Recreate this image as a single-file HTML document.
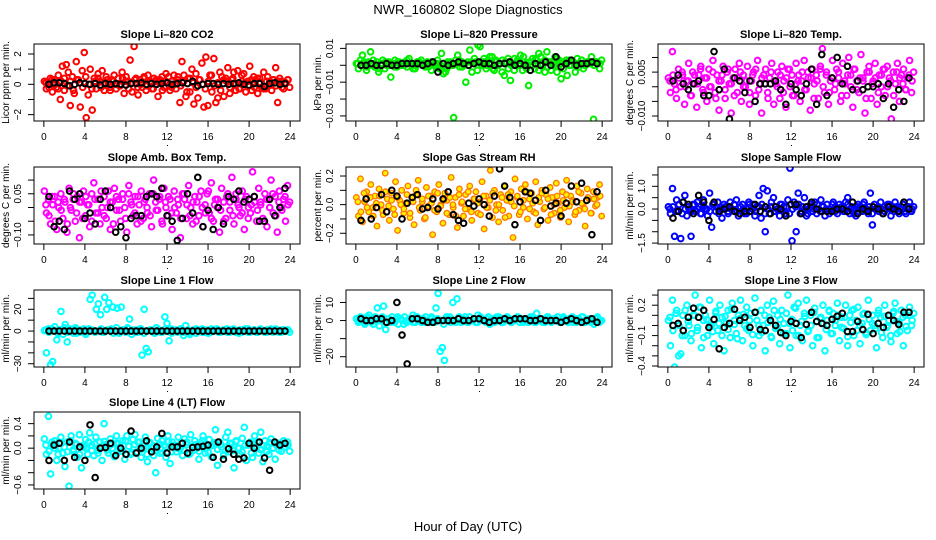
<!DOCTYPE html>
<html><head><meta charset="utf-8">
<style>
html,body{margin:0;padding:0;background:#fff;}
svg{display:block;font-family:"Liberation Sans",Arial,sans-serif;}
</style></head>
<body>
<svg id="chart" width="936" height="540" viewBox="0 0 936 540" xmlns="http://www.w3.org/2000/svg">
<rect width="936" height="540" fill="#fff"/>
<text x="468" y="14" text-anchor="middle" font-size="13">NWR_160802  Slope Diagnostics</text>
<text x="468" y="531" text-anchor="middle" font-size="13">Hour of Day (UTC)</text>
<g id="panels"></g>
</svg>
<script>
// ---- data ----
const xTicks = [0,4,8,12,16,20,24];
const co2Vals = [0.2,-0.3,0.1,0.4,-0.5,0.3,-0.2,0.6,-1.0,1.2,-0.4,1.3,0.8,-1.4,0.5,-0.6,1.5,0.3,-1.5,0.9,2.1,-2.2,-0.7,1.0,-1.7,0.4,-0.3,0.7,0.2,0.9,-0.4,0.5,0.1,-0.2,0.3,0.6,-0.3,0.4,-0.1,0.8,-0.6,0.5,0.2,1.6,-0.5,2.5,0.4,-0.7,0.3,-0.2,0.5,-0.4,0.6,0.1,-0.3,0.4,0.2,-0.8,0.3,0.5,-0.2,0.7,0.1,-0.4,0.2,0.6,-0.3,0.5,-1.2,1.5,0.6,-0.8,0.4,-0.5,1.0,-1.3,0.7,-0.9,0.3,1.4,-1.5,1.8,-1.4,0.6,-0.5,1.7,-1.2,-0.9,0.8,0.5,-0.8,0.4,1.1,-0.6,0.3,0.8,-0.4,0.9,-0.3,0.6,0.7,-0.5,0.2,1.2,-0.4,0.5,0.3,-0.6,0.4,-0.2,0.8,-0.3,0.5,0.2,-0.4,0.3,1.1,-1.2,0.4,0.2,-0.3,0.1,0.3,-0.2];
const co2Core = [0.1,-0.2,0.3,0.0,-0.3,0.2,0.4,-0.1,0.2,-0.4,0.3,0.1,-0.2,0.5,0.0,-0.3,0.2,0.4,-0.2,0.1,0.3,-0.4,0.2,0.0,-0.1,0.4,0.2,-0.3,0.1,0.3,-0.2,0.0,0.4,-0.1,0.2,-0.3,0.3,0.1,-0.4,0.2,0.5,-0.2,0.0,0.3,-0.1,0.2,-0.5,0.4,0.1,-0.2,0.3,0.0,-0.3,0.2,0.6,-0.1,0.1,-0.4,0.3,0.2,-0.2,0.4,0.0,-0.3,0.2,0.1,-0.1,0.3,-0.2,0.4,0.1,-0.3,0.2,0.0,0.3,-0.1,0.2,-0.2,0.1,0.3];
const co2Ref = [0,0.1,0.1,0.05,-0.1,0,0.1,0.05,0,0.05,-0.05,0.05,0,0.05,0,-0.05,0.05,0.05,0.1,0,0.05,0,0.05,0.1,0,0.05,0.1,0.05,0.2,-0.1,0,0.05,0.05,0,0.05,0,0.05,0.1,0,-0.05,0.05,0.05,-0.15,0.05,0.1,0,0.05];
const presVals = [0.001,-0.002,0.003,0.006,0.001,-0.003,0.002,0.008,0.000,-0.001,0.002,-0.004,0.001,0.003,-0.002,0.000,0.002,-0.007,0.001,0.003,-0.001,0.002,0.000,0.001,0.002,-0.001,0.004,0.001,0.000,-0.002,0.002,0.001,0.003,0.000,-0.001,0.002,0.001,-0.003,0.002,0.000,0.001,-0.002,0.007,-0.005,-0.004,0.002,0.001,0.000,-0.031,0.003,0.006,-0.001,0.002,0.000,-0.010,0.002,0.009,-0.004,0.001,0.002,0.012,0.011,0.000,0.004,-0.002,0.003,0.001,0.005,-0.003,0.002,0.000,0.001,0.003,-0.006,0.002,-0.002,-0.009,0.001,0.004,0.002,0.000,0.006,-0.003,0.002,0.001,-0.012,0.002,0.004,-0.002,0.003,0.007,0.005,0.000,-0.004,0.008,0.002,-0.003,0.001,0.005,-0.004,0.003,-0.008,0.002,0.001,-0.006,0.003,0.000,0.002,-0.004,0.004,0.001,0.003,-0.002,0.000,0.002,0.001,0.005,-0.032,0.002,0.001,-0.002,0.003];
const presCore = [0.001,0.000,0.002,-0.001,0.001,0.003,0.000,-0.002,0.001,0.002,0.000,0.001,-0.001,0.002,0.001,0.000,0.003,0.001,-0.002,0.000,0.002,0.001,0.000,-0.001,0.002,0.001,0.003,0.000,0.001,-0.002,0.002,0.000,0.001,0.003,-0.001,0.001,0.000,0.002,0.004,-0.003,0.001,0.002,0.000,0.005,-0.002,0.003,0.001,-0.004,0.002,0.004,0.000,-0.003,0.003,0.001,0.005,-0.002,0.002,0.000,0.004,-0.003,0.001,0.003,-0.001,0.002,0.000,0.004,0.001,-0.002,0.003,0.000,0.002,0.001,-0.001,0.003,0.000,0.002,0.001,0.000,0.002,0.001];
const presRef = [0.000,0.000,0.001,0.000,0.000,0.001,0.000,0.000,0.001,0.001,0.001,0.001,0.000,0.001,0.002,-0.004,0.001,0.000,0.001,0.002,0.001,0.000,0.001,0.002,0.001,0.001,0.000,0.001,0.001,0.002,0.000,0.001,0.000,-0.003,0.001,0.000,0.002,0.000,0.005,-0.001,0.001,0.003,0.000,0.001,0.001,0.002,0.001];
const tempVals = [0.003,-0.002,0.012,0.001,-0.004,0.006,0.000,0.004,-0.006,0.002,0.008,-0.003,0.005,0.001,-0.007,0.004,0.007,-0.001,0.003,-0.005,0.006,0.000,0.009,-0.002,0.004,-0.008,0.002,0.007,-0.004,0.005,0.001,-0.009,0.003,0.006,-0.002,0.008,-0.005,0.004,0.000,0.007,-0.006,0.002,0.005,-0.003,0.009,0.001,-0.009,0.004,0.006,-0.002,0.003,0.008,-0.006,0.001,0.005,-0.004,0.007,0.002,-0.007,0.006,0.000,0.004,-0.003,0.008,0.002,-0.005,0.005,0.009,-0.001,0.003,-0.008,0.006,0.001,0.004,-0.004,0.007,0.013,-0.002,0.005,-0.006,0.002,0.009,-0.001,0.006,0.003,-0.005,0.008,0.001,-0.003,0.010,0.004,-0.007,0.006,0.002,-0.002,0.011,0.003,-0.009,0.005,0.007,-0.004,0.002,0.008,-0.006,0.004,0.000,0.006,-0.003,0.007,0.003,-0.011,0.005,0.001,0.008,-0.005,0.004,0.006,-0.001,0.003,0.009,-0.002,0.005];
const tempCore = [0.002,0.004,-0.001,0.003,0.005,0.000,0.002,-0.003,0.004,0.001,0.006,-0.002,0.003,0.000,0.005,-0.004,0.002,0.004,-0.001,0.006,0.001,-0.003,0.003,0.005,0.000,0.002,-0.002,0.004,0.006,-0.001,0.003,0.001,-0.004,0.005,0.002,0.000,0.004,-0.002,0.003,0.006,-0.003,0.001,0.004,0.002,-0.001,0.005,0.003,-0.004,0.002,0.006,0.000,0.004,-0.002,0.003,0.001,0.005,-0.003,0.002,0.004,0.000,0.006,-0.001,0.003,0.002,-0.004,0.005,0.001,0.003,-0.002,0.004,0.006,0.000,0.002,-0.003,0.005,0.003,0.001,-0.001,0.004,0.002];
const tempRef = [0.002,0.004,0.001,-0.001,0.001,0.002,-0.003,-0.003,0.012,-0.001,0.006,-0.011,0.003,0.002,-0.002,0.002,-0.005,0.001,0.001,0.001,0.002,-0.001,-0.006,0.001,-0.001,-0.003,0.001,0.006,-0.006,0.011,-0.003,0.003,0.010,0.001,0.007,-0.001,0.002,-0.001,0.000,0.000,0.001,-0.004,0.001,-0.007,-0.001,-0.005,0.003];
const ambVals = [0.06,-0.02,0.03,-0.06,0.01,0.04,-0.08,0.00,0.05,-0.04,0.02,-0.09,0.07,-0.01,0.03,-0.05,0.04,-0.11,0.02,0.06,-0.03,0.01,-0.07,0.05,0.09,-0.02,0.03,-0.06,0.00,0.04,-0.04,0.06,-0.08,0.02,0.07,-0.01,0.03,-0.05,0.05,0.00,-0.09,0.08,0.02,-0.03,0.04,-0.06,0.01,0.06,-0.04,0.03,-0.02,0.05,-0.07,0.10,0.02,-0.01,0.04,-0.05,0.07,0.00,-0.03,0.03,-0.08,0.06,-0.02,0.01,-0.11,0.05,0.03,-0.04,0.08,0.00,-0.06,0.04,0.02,-0.03,0.06,-0.07,0.01,0.05,-0.02,0.09,-0.05,0.03,0.00,-0.09,0.07,0.02,-0.04,0.05,-0.01,0.11,-0.06,0.03,0.01,-0.03,0.06,-0.08,0.04,0.00,-0.02,0.13,0.02,-0.05,0.07,0.01,-0.04,0.05,-0.07,0.03,0.10,-0.02,0.04,-0.09,0.06,0.00,0.03,-0.05,0.08,0.02];
const ambCore = [0.01,-0.03,0.04,-0.05,0.02,-0.01,0.03,-0.06,0.00,0.05,-0.02,0.02,-0.04,0.04,0.01,-0.05,0.03,-0.02,0.06,-0.03,0.00,0.02,-0.06,0.04,-0.01,0.03,-0.04,0.05,0.01,-0.02,0.04,-0.05,0.02,0.00,-0.03,0.05,-0.01,0.03,-0.06,0.02,0.04,-0.02,0.00,0.03,-0.04,0.05,0.01,-0.03,0.02,-0.05,0.04,0.00,-0.02,0.06,-0.04,0.01,0.03,-0.01,-0.05,0.04,0.02,-0.03,0.05,0.00,-0.02,0.03,-0.04,0.01,0.04,-0.01,0.02,-0.05,0.03,0.00,0.05,-0.03,0.02,-0.01,0.04,0.01];
const ambRef = [0.04,-0.07,-0.05,-0.08,0.06,0.03,0.05,-0.04,-0.02,-0.06,0.03,0.06,-0.00,-0.09,-0.07,-0.11,-0.04,-0.03,-0.03,0.04,0.05,0.04,0.07,-0.03,-0.05,-0.12,-0.04,0.05,-0.02,0.11,-0.07,-0.01,-0.08,0.00,-0.06,0.04,0.03,0.06,0.02,0.03,0.04,-0.05,-0.05,0.03,-0.03,0.00,0.07];
const rhVals = [0.05,-0.08,0.18,-0.12,0.02,0.09,-0.05,0.14,-0.02,0.06,-0.15,0.11,0.00,-0.07,0.22,0.04,-0.11,0.08,-0.03,0.16,-0.18,0.03,0.10,-0.06,0.01,0.13,-0.09,0.05,-0.14,0.07,0.17,-0.04,0.02,-0.10,0.12,-0.01,0.06,-0.21,0.09,-0.05,0.14,0.00,-0.13,0.08,0.03,-0.07,0.19,-0.02,0.05,-0.16,0.11,0.01,-0.08,0.07,-0.03,0.13,-0.11,0.04,0.09,-0.06,0.02,0.16,-0.17,0.06,-0.02,0.24,-0.09,0.10,0.00,-0.12,0.07,-0.04,0.13,0.03,-0.08,0.09,-0.23,0.18,0.05,-0.07,0.11,-0.02,0.14,-0.10,0.04,0.08,-0.05,0.16,-0.14,0.02,0.10,-0.03,0.07,-0.11,0.12,0.05,-0.06,0.15,0.01,-0.09,0.09,-0.02,0.17,-0.12,0.06,0.03,-0.07,0.13,-0.04,0.08,0.00,-0.15,0.11,0.04,-0.06,0.09,-0.01,0.05,0.14,-0.08];
const rhCore = [0.02,-0.05,0.08,-0.02,0.05,-0.08,0.01,0.06,-0.04,0.09,-0.01,0.03,-0.07,0.05,0.00,-0.03,0.07,-0.06,0.02,0.10,-0.02,0.04,-0.09,0.06,0.01,-0.04,0.08,-0.01,0.03,-0.06,0.05,0.00,-0.08,0.07,0.02,-0.03,0.09,-0.05,0.04,0.01,-0.07,0.06,-0.02,0.03,0.08,-0.04,0.00,0.05,-0.09,0.07,0.02,-0.01,0.06,-0.05,0.03,0.09,-0.03,0.01,-0.06,0.05,0.08,-0.02,0.04,-0.07,0.00,0.06,-0.04,0.03,0.07,-0.01,0.02,-0.05,0.09,0.01,-0.03,0.05,-0.06,0.04,0.00,0.06];
const rhRef = [-0.11,0.04,-0.10,-0.02,0.07,-0.05,0.10,0.06,-0.10,0.01,0.05,0.07,-0.03,-0.02,0.04,-0.03,0.04,0.09,-0.07,-0.11,-0.13,0.01,-0.01,0.04,0.00,-0.08,0.06,0.25,0.13,0.05,-0.14,0.02,0.09,0.08,0.03,-0.11,0.10,-0.01,0.01,-0.08,0.01,0.13,0.02,0.15,0.03,-0.21,0.09];
const flowVals = [0.1,-0.2,0.9,-1.2,0.4,-0.1,-1.3,0.3,0.6,-0.3,0.0,-1.2,0.2,-0.1,0.3,0.1,-0.2,0.4,0.0,-0.3,0.7,-0.8,0.2,-0.1,0.3,0.0,-0.4,0.2,0.1,-0.2,0.3,0.0,-0.1,0.4,-0.3,0.1,0.2,-0.2,0.0,0.3,-0.1,0.2,-0.3,0.1,0.6,-0.4,0.9,-1.0,0.8,-0.2,0.3,0.5,-0.1,0.0,-0.3,0.2,0.1,-0.2,0.4,1.8,-1.4,0.3,-1.0,0.7,-0.2,0.1,0.5,-0.3,0.0,0.2,-0.1,0.3,-0.2,0.0,0.4,0.1,-0.3,0.2,0.0,-0.1,0.3,0.1,-0.2,0.2,0.0,-0.1,0.3,0.5,-0.2,0.1,0.0,-0.3,0.2,0.1,-0.1,0.3,0.0,-0.2,0.7,-0.7,0.2,0.0,-0.1,0.3,-0.2,0.1,0.0,0.2,-0.3,0.1,0.3,0.0,-0.2,0.1,0.2,-0.1,0.0,0.3,-0.1,0.1];
const flowCore = [0.0,0.1,-0.1,0.2,-0.2,0.0,0.1,-0.1,0.2,0.0,-0.2,0.1,0.0,-0.1,0.2,0.1,-0.2,0.0,0.1,-0.1,0.0,0.2,-0.1,0.1,0.0,-0.2,0.2,0.0,-0.1,0.1,0.2,-0.2,0.0,0.1,-0.1,0.0,0.2,-0.1,0.1,-0.2,0.0,0.1,0.2,-0.1,0.0,-0.2,0.1,0.0,0.2,-0.1,0.1,0.0,-0.2,0.2,-0.1,0.0,0.1,-0.1,0.2,0.0,-0.2,0.1,0.0,0.2,-0.1,0.1,-0.2,0.0,0.1,0.0,-0.1,0.2,0.0,-0.1,0.1,0.0,0.2,-0.2,0.1,0.0];
const flowRef = [-0.4,-0.1,0.3,0.2,-0.2,0.6,0.3,-0.5,0.3,-0.1,0.0,0.1,-0.1,-0.2,-0.1,-0.1,0.2,-0.1,0.1,-0.2,0.1,0.0,-0.3,0.2,0.2,-0.2,0.1,0.3,0.0,-0.1,-0.1,-0.1,0.0,0.0,-0.1,0.3,-0.2,0.0,-0.1,0.1,0.0,-0.2,0.1,0.0,-0.1,0.3,0.0];
const line1Vals = [0.5,-20,2,-31,-28,4,-8,1,18,-3,6,-10,2,0,-2,3,1,-1,0,2,-1,1,29,33,0,20,25,15,-1,31,20,26,2,22,0,21,-2,22,1,0,3,11,-3,1,0,-1,2,-22,20,-16,-19,1,0,-2,3,1,-1,0,13,7,-9,2,0,1,-1,0,2,-4,5,1,-1,0,1,-2,1,0,2,-1,0,1,-1,0,1,2,-1,0,1,0,-1,1,0,2,-1,0,1,-1,0,1,2,-1,0,1,-1,0,1,0,-1,1,0,2,-1,0,1,0,-1,1,0,1,-1];
const line1Core = [1,-1,2,0,-2,1,3,-1,0,2,-2,1,0,-3,2,1,-1,0,2,-1,1,0,-2,3,0,1,-1,2,0,-1,1,2,-2,0,1,-1,3,0,-1,2,1,-2,0,1,2,-1,0,-3,1,2,0,-1,1,-2,2,0,1,-1,0,2,-1,1,0,-2,1,2,-1,0,1,-1,2,0,-1,1,0,2,-1,1,0,1];
const line1Ref = [0,0,0,0,0,0,0,0,0,0,0,0,0,0,0,0,0,0,0,0,0,0,0,0,0,0,0,0,0,0,0,0,0,0,0,0,0,0,0,0,0,0,0,0,0,0,0];
const line2Vals = [1,-1,2,0,-2,1,3,-1,0,2,7,-3,0,8,-5,1,-1,2,0,1,-2,1,0,2,-1,0,1,3,-1,2,0,-1,1,2,0,-1,1,0,7,15,-17,-15,-22,2,1,-1,10,0,12,2,-1,1,0,-1,2,0,1,-1,3,0,1,0,-1,2,0,1,-1,2,0,1,-1,0,2,1,-1,0,1,2,-1,0,1,0,-1,2,1,-1,4,0,1,-1,0,2,1,-1,0,1,2,-1,0,1,0,-1,1,2,0,-1,1,0,2,-1,0,1,-1,0,1,2,-1,0];
const line2Core = [0,1,-1,2,0,-2,1,0,2,-1,1,0,-1,2,1,-2,0,1,-1,2,0,1,-1,0,2,-1,1,0,-2,1,2,0,-1,1,0,2,-1,0,1,-1,2,0,1,-2,0,1,2,-1,0,1,-1,0,2,1,-1,0,1,2,-1,0,1,-1,2,0,1,0,-1,2,0,1,-1,1,0,2,-1,0,1,-2,1,0];
const line2Ref = [1,0,0,1,1,-1,0,10,-8,-24,1,1,0,-1,-1,0,0,0,0,1,0,0,1,1,0,-1,0,0,1,0,1,1,1,0,0,1,0,0,0,-1,0,1,0,-1,0,1,-1];
const line3Vals = [0.05,-0.2,0.25,-0.41,0.15,-0.3,-0.28,0.1,-0.1,0.2,0.0,-0.15,0.1,0.3,-0.05,0.18,-0.22,0.05,0.1,-0.1,0.25,0.0,-0.18,0.12,-0.05,0.2,0.08,-0.25,0.02,0.15,-0.12,0.22,0.05,-0.08,0.1,0.25,-0.15,0.0,0.18,-0.05,0.12,-0.2,0.27,0.05,-0.1,0.15,0.0,-0.25,0.2,0.08,-0.12,0.24,-0.03,0.1,-0.18,0.15,0.02,-0.08,0.3,-0.22,0.06,0.18,-0.1,0.22,0.0,-0.15,0.12,0.25,-0.05,0.1,-0.2,0.17,0.04,-0.12,0.08,0.2,-0.25,0.05,0.15,-0.08,0.12,0.0,0.22,-0.15,0.08,-0.03,0.2,-0.2,0.1,0.15,-0.1,0.05,0.18,-0.18,0.02,0.12,-0.07,0.25,-0.05,0.1,0.0,-0.22,0.15,0.08,-0.12,0.2,-0.02,0.05,-0.16,0.12,0.22,-0.08,0.03,0.15,-0.2,0.1,-0.05,0.18,0.0,0.12];
const line3Core = [0.08,-0.05,0.12,0.0,-0.1,0.15,0.04,-0.08,0.1,-0.02,0.18,-0.12,0.06,0.0,-0.06,0.14,0.02,-0.1,0.09,-0.04,0.16,0.01,-0.13,0.07,0.11,-0.03,0.05,-0.09,0.13,0.0,-0.07,0.1,0.03,-0.11,0.15,-0.02,0.06,-0.08,0.12,0.02,-0.05,0.17,-0.1,0.04,0.09,-0.06,0.0,0.13,-0.12,0.07,0.02,-0.04,0.14,-0.08,0.05,0.1,-0.02,0.08,-0.11,0.03,0.16,-0.05,0.0,0.11,-0.09,0.06,0.02,-0.03,0.12,-0.07,0.09,0.0,-0.1,0.14,0.04,-0.06,0.08,-0.01,0.1,0.05];
const line3Ref = [0.0,0.02,-0.05,0.08,0.17,0.08,0.15,-0.02,0.06,-0.23,-0.02,0.02,0.16,0.05,0.08,-0.02,0.13,-0.04,-0.05,0.05,0.0,-0.07,-0.1,0.04,0.02,-0.12,0.01,0.13,0.04,0.02,0.0,0.06,0.09,0.12,-0.06,-0.06,0.04,-0.04,0.11,-0.08,0.02,-0.02,0.1,0.05,0.01,0.13,0.13];
const line4Vals = [0.15,-0.1,0.52,-0.42,0.05,0.12,-0.2,0.0,0.18,-0.08,-0.3,0.1,-0.62,0.2,-0.05,0.08,-0.15,0.22,-0.32,0.02,0.14,-0.1,0.25,0.05,-0.12,0.18,-0.03,0.1,-0.2,0.4,0.06,-0.08,0.15,0.0,-0.14,0.2,0.08,-0.05,0.12,-0.18,0.2,0.03,-0.1,0.14,0.22,-0.06,0.1,-0.15,0.04,0.18,-0.22,0.08,0.0,-0.12,-0.4,0.16,-0.08,0.12,0.05,-0.15,0.2,-0.25,0.1,0.02,-0.06,0.18,0.0,-0.12,0.15,0.06,-0.1,0.22,-0.04,0.12,0.0,-0.18,0.08,0.2,-0.08,0.04,0.14,-0.14,0.06,0.3,-0.28,0.1,0.02,-0.12,0.18,0.26,-0.06,0.08,-0.32,0.12,0.0,-0.1,0.16,0.34,-0.2,0.05,0.1,-0.15,0.2,0.02,-0.08,0.26,-0.22,0.12,0.04,-0.1,0.15,0.0,-0.18,0.08,0.05,-0.05,0.12,0.02,0.1,-0.05];
const line4Core = [0.05,-0.05,0.1,0.0,-0.1,0.08,0.02,-0.06,0.12,-0.02,0.06,-0.1,0.04,0.0,0.1,-0.04,0.07,-0.08,0.02,0.11,-0.03,0.05,-0.09,0.08,0.0,-0.05,0.12,0.03,-0.07,0.06,0.1,-0.02,0.0,-0.1,0.09,0.04,-0.04,0.07,-0.08,0.02,0.11,-0.06,0.05,0.0,0.08,-0.03,0.1,-0.09,0.03,0.06,-0.05,0.12,0.0,-0.07,0.04,0.09,-0.02,0.06,-0.1,0.02,0.08,-0.04,0.11,0.0,-0.06,0.05,0.07,-0.08,0.03,0.1,-0.02,0.04,-0.06,0.09,0.0,0.06,-0.03,0.08,0.02,0.05];
const line4Ref = [-0.2,0.05,0.08,-0.2,0.1,-0.15,0.02,-0.2,0.38,-0.48,0.0,0.01,0.08,-0.12,0.0,-0.1,0.28,-0.08,0.0,0.12,-0.06,0.02,0.24,-0.08,0.02,0.02,0.08,-0.08,0.01,0.02,0.03,0.05,-0.15,0.1,-0.18,-0.01,-0.1,-0.18,-0.16,0.08,0.0,0.1,-0.16,-0.36,0.1,0.05,0.08];

// ---- panel config ----
const COLS = [34, 346, 658];
const ROWS = [44, 167, 290, 412];
const BW = 266, BH = 77;
const panels = [
 {name:'co2', title:'Slope Li\u2013820 CO2', ylab:'Licor ppm per min.', col:0,row:0, ymin:-2.42, ymax:2.66, ticks:[-2,-1,0,1,2], labels:['\u22122','','0','1','2'], vals:co2Vals, core:co2Core, ref:co2Ref, stroke:'#ff0000', fill:'none'},
 {name:'pressure', title:'Slope Li\u2013820 Pressure', ylab:'kPa per min.', col:1,row:0, ymin:-0.033, ymax:0.0126, ticks:[-0.03,-0.02,-0.01,0,0.01], labels:['\u22120.03','','\u22120.01','','0.01'], vals:presVals, core:presCore, ref:presRef, stroke:'#00ee00', fill:'none'},
 {name:'li820-temp', title:'Slope Li\u2013820 Temp.', ylab:'degrees C per min.', col:2,row:0, ymin:-0.0117, ymax:0.0146, ticks:[-0.01,-0.005,0,0.005,0.01], labels:['\u22120.010','','','0.005',''], vals:tempVals, core:tempCore, ref:tempRef, stroke:'#ff00ff', fill:'none'},
 {name:'amb-box-temp', title:'Slope Amb. Box Temp.', ylab:'degrees C per min.', col:0,row:1, ymin:-0.133, ymax:0.1476, ticks:[-0.1,-0.05,0,0.05,0.1], labels:['\u22120.10','','','0.05',''], vals:ambVals, core:ambCore, ref:ambRef, stroke:'#ff00ff', fill:'none'},
 {name:'gas-stream-rh', title:'Slope Gas Stream RH', ylab:'percent per min.', col:1,row:1, ymin:-0.275, ymax:0.263, ticks:[-0.2,-0.1,0,0.1,0.2], labels:['\u22120.2','','0.0','','0.2'], vals:rhVals, core:rhCore, ref:rhRef, stroke:'#ff7700', fill:'#ffee00'},
 {name:'sample-flow', title:'Slope Sample Flow', ylab:'ml/min per min.', col:2,row:1, ymin:-1.54, ymax:1.85, ticks:[-1.5,-1,-0.5,0,0.5,1,1.5], labels:['\u22121.5','','','0.0','','1.0',''], vals:flowVals, core:flowCore, ref:flowRef, stroke:'#0000ff', fill:'none'},
 {name:'line1-flow', title:'Slope Line 1 Flow', ylab:'ml/min per min.', col:0,row:2, ymin:-33, ymax:37.7, ticks:[-30,-20,-10,0,10,20,30], labels:['\u221230','','','0','','20',''], vals:line1Vals, core:line1Core, ref:line1Ref, stroke:'#00ffff', fill:'none'},
 {name:'line2-flow', title:'Slope Line 2 Flow', ylab:'ml/min per min.', col:1,row:2, ymin:-25.7, ymax:16.9, ticks:[-20,-10,0,10], labels:['\u221220','','0','10'], vals:line2Vals, core:line2Core, ref:line2Ref, stroke:'#00ffff', fill:'none'},
 {name:'line3-flow', title:'Slope Line 3 Flow', ylab:'ml/min per min.', col:2,row:2, ymin:-0.41, ymax:0.35, ticks:[-0.4,-0.3,-0.2,-0.1,0,0.1,0.2,0.3], labels:['\u22120.4','','','\u22120.1','','','0.2',''], vals:line3Vals, core:line3Core, ref:line3Ref, stroke:'#00ffff', fill:'none'},
 {name:'line4-flow', title:'Slope Line 4 (LT) Flow', ylab:'ml/min per min.', col:0,row:3, ymin:-0.666, ymax:0.59, ticks:[-0.6,-0.4,-0.2,0,0.2,0.4], labels:['\u22120.6','','','0.0','','0.4'], vals:line4Vals, core:line4Core, ref:line4Ref, stroke:'#00ffff', fill:'none'}
];

const NS = 'http://www.w3.org/2000/svg';
const root = document.getElementById('panels');
function mk(tag, attrs, parent){
  const e = document.createElementNS(NS, tag);
  for (const k in attrs) e.setAttribute(k, attrs[k]);
  parent.appendChild(e);
  return e;
}
const XMIN = -0.96, XMAX = 24.96;

panels.forEach(p => {
  const L = COLS[p.col], T = ROWS[p.row];
  const xs = v => L + (v - XMIN) / (XMAX - XMIN) * BW;
  const ys = v => T + BH - (v - p.ymin) / (p.ymax - p.ymin) * BH;
  const g = mk('g', {}, root);
  
  

  const t = mk('text', {x: L + BW/2, y: T - 6, 'text-anchor':'middle', 'font-size':'11', 'font-weight':'bold'}, g);
  t.textContent = p.title;
  
  

  const cid = 'clip-' + p.name;
  const cp = mk('clipPath', {id: cid}, g);
  mk('rect', {x: L, y: T, width: BW, height: BH}, cp);
  const pts = mk('g', {'clip-path': 'url(#' + cid + ')'}, g);
  
  
  const sw = p.fill === 'none' ? 2 : 1.3;
  const n = p.vals.length;
  p.vals.forEach((v, i) => {
    const hr = 0.05 + i * 23.9 / (n - 1);
    const c = mk('circle', {cx: xs(hr), cy: ys(v), r: 2.8, fill: p.fill, stroke: p.stroke, 'stroke-width': sw}, pts);
    
    
  });
  const m = p.core.length;
  p.core.forEach((v, i) => {
    const hr = 0.2 + i * 23.6 / (m - 1);
    const c = mk('circle', {cx: xs(hr), cy: ys(v), r: 2.8, fill: p.fill, stroke: p.stroke, 'stroke-width': sw}, pts);
    
    
  });
  p.ref.forEach((v, i) => {
    const hr = 0.5 + i * 0.5;
    const c = mk('circle', {cx: xs(hr), cy: ys(v), r: 2.8, fill: 'none', stroke: '#000', 'stroke-width': 2}, pts);
    
    
  });

  const box = mk('rect', {x: L, y: T, width: BW, height: BH, fill: 'none', stroke: '#000', 'stroke-width': 1}, g);
  
  

  const xa = mk('g', {}, g);
  
  
  xTicks.forEach(v => {
    mk('line', {x1: xs(v), x2: xs(v), y1: T + BH, y2: T + BH + 6, stroke: '#000'}, xa);
    const tl = mk('text', {x: xs(v), y: T + BH + 19, 'text-anchor':'middle', 'font-size':'10'}, xa);
    tl.textContent = v;
    
    
  });
  mk('rect', {x: L + BW/2, y: T + BH + 24, width: 1, height: 1, fill: '#000'}, xa);

  const ya = mk('g', {}, g);
  
  
  mk('line', {x1: L, x2: L, y1: ys(p.ticks[0]), y2: ys(p.ticks[p.ticks.length-1]), stroke: '#000'}, ya);
  p.ticks.forEach((v, i) => {
    mk('line', {x1: L - 6, x2: L, y1: ys(v), y2: ys(v), stroke: '#000'}, ya);
    if (p.labels[i]) {
      const yl = mk('text', {x: 0, y: 0, 'text-anchor':'middle', 'font-size':'10', transform: 'translate(' + (L - 13) + ',' + ys(v) + ') rotate(-90)'}, ya);
      yl.textContent = p.labels[i];
      
      
    }
  });
  const yt = mk('text', {x: 0, y: 0, 'text-anchor':'middle', 'font-size':'10', transform: 'translate(' + (L - 25) + ',' + (T + BH/2) + ') rotate(-90)'}, ya);
  yt.textContent = p.ylab;
  
  
});
</script>
</body></html>
